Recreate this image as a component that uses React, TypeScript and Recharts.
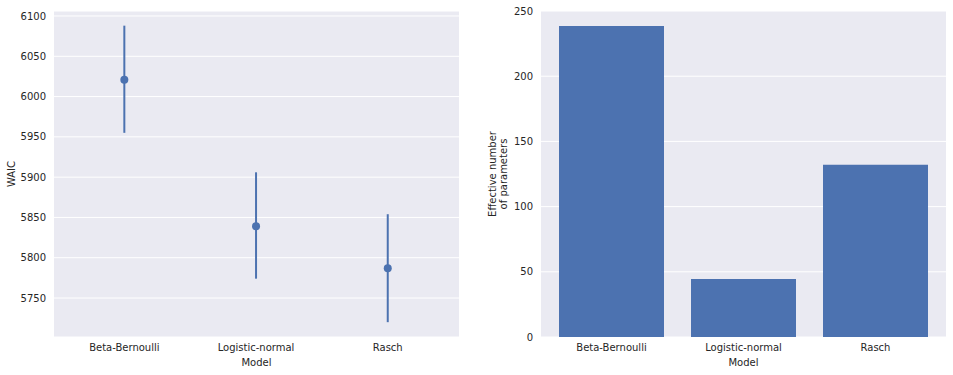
import {
  ScatterChart, Scatter, ErrorBar, BarChart, Bar, XAxis, YAxis, CartesianGrid,
} from 'recharts'

const models = ['Beta-Bernoulli', 'Logistic-normal', 'Rasch']
const waicMean = [6021, 5839, 5787]
const waicLow = [5955, 5774, 5720]
const waicHigh = [6088, 5906, 5854]
const waicTicks = [5750, 5800, 5850, 5900, 5950, 6000, 6050, 6100]
const pWaic = [238.5, 44.5, 132]
const pTicks = [0, 50, 100, 150, 200, 250]

const BLUE = '#4c72b0'
const BG = '#eaeaf2'
const TXT = '#262626'
const FONT = '"DejaVu Sans", sans-serif'
const tick = { fontSize: 10, fill: TXT, fontFamily: FONT }

const waicData = models.map((m, i) => ({
  idx: i,
  waic: waicMean[i],
  err: [waicMean[i] - waicLow[i], waicHigh[i] - waicMean[i]],
}))
const pData = models.map((m, i) => ({ model: m, p: pWaic[i] }))

function YLabel({ viewBox, lines, px }: any) {
  const cy = viewBox.y + viewBox.height / 2
  return (
    <text transform={`translate(${px}, ${cy}) rotate(-90)`} textAnchor="middle"
      fontSize={10} fill={TXT} fontFamily={FONT}>
      {lines.map((l: string, i: number) => (
        <tspan key={i} x={0} y={i * 11}>{l}</tspan>
      ))}
    </text>
  )
}

function XLabel({ viewBox }: any) {
  return (
    <text x={viewBox.x + viewBox.width / 2} y={366} textAnchor="middle"
      fontSize={10} fill={TXT} fontFamily={FONT}>Model</text>
  )
}

export default function App() {
  return (
    <div style={{ position: 'absolute', left: 0, top: 0, width: 953, height: 375, background: '#fff' }}>
      <div style={{ position: 'absolute', left: 0, top: 0 }}>
        <ScatterChart width={470} height={375} margin={{ top: 11, right: 11, bottom: 0, left: 0 }}>
          <CartesianGrid fill={BG} stroke="#fff" strokeWidth={1} vertical={false} />
          <XAxis type="number" dataKey="idx" domain={[-0.534, 2.541]} ticks={[0, 1, 2]}
            tickFormatter={(v: number) => models[v]} axisLine={false} tickLine={false}
            tickSize={0} tickMargin={7} height={38} tick={tick} allowDataOverflow
            label={<XLabel />} />
          <YAxis type="number" dataKey="waic" domain={[5701.6, 6106.2]} ticks={waicTicks}
            axisLine={false} tickLine={false} tickSize={0} tickMargin={8} width={54}
            tick={tick} allowDataOverflow
            label={<YLabel lines={['WAIC']} px={15} />} />
          <Scatter data={waicData} fill={BLUE} isAnimationActive={false}
            shape={(p: any) => <circle cx={p.cx} cy={p.cy} r={4} fill={BLUE} />}>
            <ErrorBar dataKey="err" direction="y" width={0} stroke={BLUE} strokeWidth={2} />
          </Scatter>
        </ScatterChart>
      </div>
      <div style={{ position: 'absolute', left: 470, top: 0 }}>
        <BarChart width={483} height={375} data={pData} barCategoryGap={13.5}
          margin={{ top: 11, right: 7, bottom: 0, left: 0 }}>
          <CartesianGrid fill={BG} stroke="#fff" strokeWidth={1} vertical={false} />
          <XAxis dataKey="model" axisLine={false} tickLine={false} tickSize={0} tickMargin={7}
            padding={{ left: 4.5, right: 4.5 }} height={38} tick={tick} label={<XLabel />} />
          <YAxis domain={[0, 250]} ticks={pTicks} axisLine={false} tickLine={false}
            tickSize={0} tickMargin={8} width={71} tick={tick}
            label={<YLabel lines={['Effective number', 'of parameters']} px={26} />} />
          <Bar dataKey="p" fill={BLUE} isAnimationActive={false} />
        </BarChart>
      </div>
    </div>
  )
}
